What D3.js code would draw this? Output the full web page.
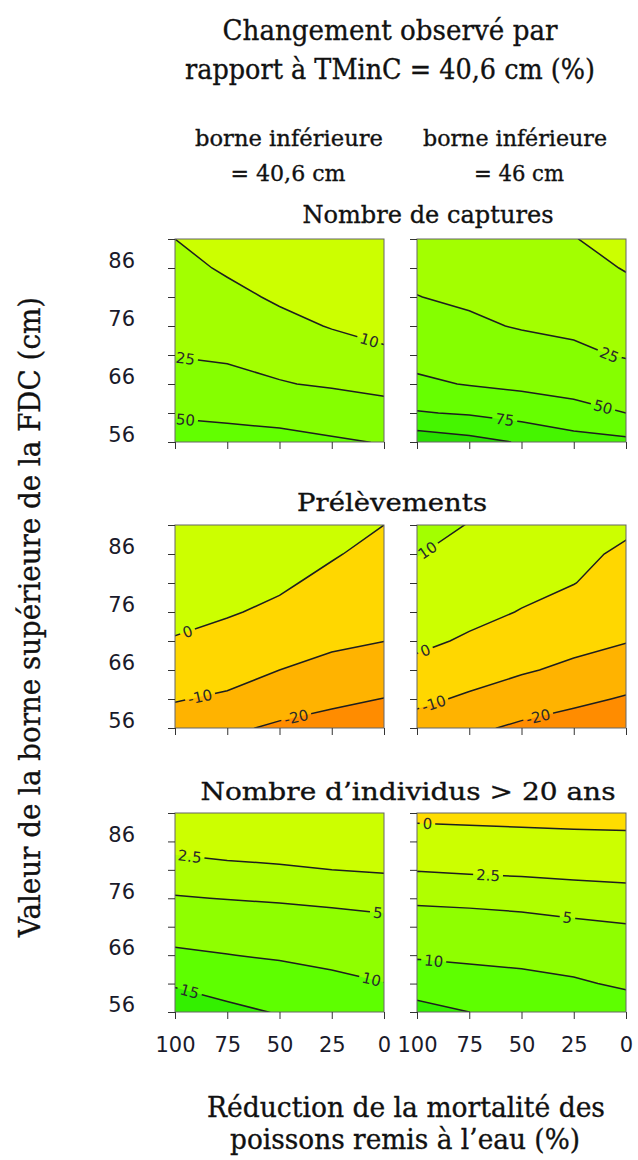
<!DOCTYPE html>
<html><head><meta charset="utf-8">
<script src="https://cdn.jsdelivr.net/npm/d3@7"></script>
<style>body{margin:0;background:#fff}</style>
</head><body>
<svg id="chart" width="638" height="1160"></svg>
<script>
// ---------- DATA ----------
const xGrid = [100, 75, 50, 25, 0];               // réduction de mortalité (%)
const yGrid = [91, 86, 81, 76, 71, 66, 61, 56];   // borne supérieure (cm), top -> bottom
const xTicks = [100, 75, 50, 25, 0];
const yTicks = [56, 61, 66, 71, 76, 81, 86, 91];
const yTickLabels = [56, 66, 76, 86];

// Nombre de captures, borne inférieure = 40,6 cm
const capturesLow = [
  [10.0,  6.0,  5.0,  3.0,  2.0],
  [13.6,  8.5,  6.5,  4.5,  3.5],
  [17.1, 13.2,  8.3,  6.0,  5.0],
  [20.7, 17.8, 13.5,  9.3,  7.0],
  [24.3, 22.4, 19.4, 15.8, 11.7],
  [35.0, 31.0, 26.0, 23.0, 20.0],
  [47.5, 45.0, 41.8, 36.9, 31.8],
  [60.0, 59.0, 57.6, 53.3, 48.6]
];
const capturesLowLevels = [10, 25, 50];
const capturesLowColors = ["#ccff00", "#a3ff00", "#85ff00", "#62ff00"];
const capturesLowLabels = [{level: 10, x: 7, text: "10"}, {level: 25, x: 95, text: "25"}, {level: 50, x: 95, text: "50"}];

// Nombre de captures, borne inférieure = 46 cm
const capturesHigh = [
  [18.0, 15.0, 12.0, 10.5,  5.0],
  [21.5, 18.7, 15.9, 14.4,  9.3],
  [25.3, 22.4, 19.8, 18.2, 14.1],
  [34.1, 27.9, 23.7, 22.1, 18.8],
  [42.8, 38.3, 32.9, 28.1, 23.6],
  [54.0, 48.8, 45.0, 41.0, 35.3],
  [76.8, 72.4, 65.1, 58.2, 50.0],
  [115.0, 108.0, 98.0, 85.3, 80.5]
];
const capturesHighLevels = [10, 25, 50, 75, 100];
const capturesHighColors = ["#ccff00", "#a3ff00", "#85ff00", "#66ff00", "#45f500", "#28e000"];
const capturesHighLabels = [{level: 25, x: 8, text: "25"}, {level: 50, x: 11, text: "50"}, {level: 75, x: 58, text: "75"}];

// Prélèvements, borne inférieure = 40,6 cm
const prelevLow = [
  [ 10.0,   7.0,   5.0,   3.0,   0.0],
  [  7.4,   4.9,   3.1,   0.7,  -2.5],
  [  4.9,   2.8,   1.2,  -2.1,  -4.9],
  [  2.3,   0.7,  -1.6,  -5.3,  -7.4],
  [ -0.5,  -2.7,  -5.8,  -8.4,  -9.9],
  [ -5.0,  -6.7, -10.0, -12.6, -15.0],
  [ -9.5, -11.3, -15.7, -18.1, -20.2],
  [-14.1, -18.4, -21.4, -23.6, -25.4]
];
const prelevLowLevels = [-20, -10, 0];
const prelevLowColors = ["#ff8c00", "#ffb300", "#ffd700", "#ccff00"];
const prelevLowLabels = [{level: 0, x: 94, text: "0"}, {level: -10, x: 88, text: "-10"}, {level: -20, x: 42, text: "-20"}];

// Prélèvements, borne inférieure = 46 cm
const prelevHigh = [
  [ 13.0,   9.7,   6.0,   3.5,   1.4],
  [ 10.3,   7.1,   3.9,   1.8,  -1.3],
  [  7.4,   4.6,   1.9,   0.2,  -3.6],
  [  4.6,   2.0,  -0.3,  -3.6,  -6.6],
  [  1.7,  -1.0,  -4.8,  -7.3,  -9.6],
  [ -2.3,  -6.0,  -9.0, -11.9, -15.0],
  [ -8.0, -11.4, -15.0, -18.0, -20.8],
  [-13.8, -18.1, -21.7, -24.2, -26.6]
];
const prelevHighLevels = [-20, -10, 0, 10];
const prelevHighColors = ["#ff8c00", "#ffb300", "#ffd700", "#ccff00", "#a3ff00"];
const prelevHighLabels = [{level: 10, x: 95, text: "10"}, {level: 0, x: 96, text: "0"}, {level: -10, x: 92, text: "-10"}, {level: -20, x: 42, text: "-20"}];

// Nombre d'individus > 20 ans, borne inférieure = 40,6 cm
const indivLow = [
  [ 1.2,  0.9,  0.7,  0.5,  0.3],
  [ 1.8,  1.5,  1.3,  1.1,  1.0],
  [ 3.3,  3.0,  2.8,  2.5,  2.3],
  [ 5.2,  4.9,  4.6,  4.3,  4.0],
  [ 7.9,  7.4,  7.0,  6.4,  5.9],
  [10.8, 10.1,  9.5,  8.7,  8.0],
  [14.5, 13.1, 12.1, 11.2, 10.1],
  [18.2, 16.1, 14.7, 14.0, 12.9]
];
const indivLowLevels = [2.5, 5, 10, 15];
const indivLowColors = ["#ccff00", "#b0ff00", "#8fff00", "#5eff00", "#33f000"];
const indivLowLabels = [{level: 2.5, x: 93, text: "2.5"}, {level: 5, x: 3, text: "5"}, {level: 10, x: 6, text: "10"}, {level: 15, x: 93, text: "15"}];

// Nombre d'individus > 20 ans, borne inférieure = 46 cm
const indivHigh = [
  [-0.5, -0.6, -0.7, -0.8, -0.8],
  [ 0.9,  0.8,  0.7,  0.6,  0.5],
  [ 2.4,  2.2,  2.1,  1.9,  1.8],
  [ 4.4,  4.1,  3.8,  3.6,  3.3],
  [ 6.8,  6.7,  6.3,  5.6,  5.2],
  [ 9.5,  9.1,  8.6,  8.0,  7.3],
  [12.9, 12.0, 11.5, 10.6,  9.3],
  [16.5, 15.0, 14.4, 13.5, 12.5]
];
const indivHighLevels = [0, 2.5, 5, 10, 15];
const indivHighColors = ["#ffdd00", "#ccff00", "#b0ff00", "#8fff00", "#5eff00", "#33f000"];
const indivHighLabels = [{level: 0, x: 95, text: "0"}, {level: 2.5, x: 66, text: "2.5"}, {level: 5, x: 28, text: "5"}, {level: 10, x: 92, text: "10"}];

const titleLines = ["Changement observé par", "rapport à TMinC = 40,6 cm (%)"];
const colTitles = [["borne inférieure", "= 40,6 cm"], ["borne inférieure", "= 46 cm"]];
const rowTitles = ["Nombre de captures", "Prélèvements", "Nombre d’individus > 20 ans"];
const xTitle = ["Réduction de la mortalité des", "poissons remis à l’eau (%)"];
const yTitle = "Valeur de la borne supérieure de la FDC (cm)";

// ---------- LAYOUT ----------
const svg = d3.select("#chart");
const defs = svg.append("defs");
const SERIF = "'DejaVu Serif', serif";
const SANS = "'DejaVu Sans', Verdana, sans-serif";
const W = 209;
const colX = [175, 417];
const rowY = [239, 525, 813];
const rowH = [203, 203, 199];

// size a text to a target width, allowing at most a small horizontal squeeze
function fit(t, size, width) {
  t.attr("font-size", size);
  const natural = t.node().getComputedTextLength();
  if (natural > width * 1.06) {
    t.attr("font-size", size * width * 1.06 / natural);
  }
  t.attr("textLength", width).attr("lengthAdjust", "spacingAndGlyphs");
  return t;
}
function addText(txt, x, y, size, width) {
  const t = svg.append("text").attr("x", x).attr("y", y)
    .attr("font-family", SERIF).attr("fill", "#111").attr("stroke", "#111").attr("stroke-width", 0.35)
    .attr("text-anchor", "middle").text(txt);
  return fit(t, size, width);
}

// titles
addText(titleLines[0], 390, 40, 29, 335);
addText(titleLines[1], 390, 79, 29, 410);
addText(colTitles[0][0], 289, 146, 23, 188);
addText(colTitles[0][1], 288, 181, 23, 115);
addText(colTitles[1][0], 515, 146, 23, 184);
addText(colTitles[1][1], 519, 181, 23, 90);
addText(rowTitles[0], 428, 223, 25, 251);
addText(rowTitles[1], 392, 511, 25, 190);
addText(rowTitles[2], 408, 800, 25, 415);
addText(xTitle[0], 406, 1117, 29, 398);
addText(xTitle[1], 405, 1149, 29, 350);
const yt = svg.append("text").attr("transform", "translate(40,617) rotate(-90)")
  .attr("font-family", SERIF).attr("fill", "#111").attr("stroke", "#111").attr("stroke-width", 0.35)
  .attr("text-anchor", "middle").text(yTitle);
fit(yt, 29, 640);

const panels = [
  {row: 0, col: 0, grid: capturesLow, levels: capturesLowLevels, colors: capturesLowColors, labels: capturesLowLabels},
  {row: 0, col: 1, grid: capturesHigh, levels: capturesHighLevels, colors: capturesHighColors, labels: capturesHighLabels},
  {row: 1, col: 0, grid: prelevLow, levels: prelevLowLevels, colors: prelevLowColors, labels: prelevLowLabels},
  {row: 1, col: 1, grid: prelevHigh, levels: prelevHighLevels, colors: prelevHighColors, labels: prelevHighLabels},
  {row: 2, col: 0, grid: indivLow, levels: indivLowLevels, colors: indivLowColors, labels: indivLowLabels},
  {row: 2, col: 1, grid: indivHigh, levels: indivHighLevels, colors: indivHighColors, labels: indivHighLabels}
];

panels.forEach((p, i) => {
  const x0 = colX[p.col], y0 = rowY[p.row], h = rowH[p.row];
  const xs = d3.scaleLinear().domain([100, 0]).range([x0, x0 + W]);
  const ys = d3.scaleLinear().domain([56, 91]).range([y0 + h, y0]);
  const nx = xGrid.length, ny = yGrid.length;
  const gx = d3.scaleLinear().domain([0.5, nx - 0.5]).range([xs(xGrid[0]), xs(xGrid[nx - 1])]);
  const gy = d3.scaleLinear().domain([0.5, ny - 0.5]).range([ys(yGrid[0]), ys(yGrid[ny - 1])]);
  const values = p.grid.flat();
  const contours = d3.contours().size([nx, ny]).thresholds(p.levels)(values);
  const path = d3.geoPath(d3.geoTransform({point(x, y) { this.stream.point(gx(x), gy(y)); }}));

  defs.append("clipPath").attr("id", "clip" + i)
    .append("rect").attr("x", x0).attr("y", y0).attr("width", W).attr("height", h);

  const g = svg.append("g").attr("clip-path", `url(#clip${i})`);
  g.append("rect").attr("x", x0).attr("y", y0).attr("width", W).attr("height", h).attr("fill", p.colors[0]);
  g.selectAll("path.band").data(contours).join("path").attr("class", "band")
    .attr("d", path).attr("fill", (d, k) => p.colors[k + 1]);

  // labels
  const mask = defs.append("mask").attr("id", "mask" + i).attr("maskUnits", "userSpaceOnUse")
    .attr("x", 0).attr("y", 0).attr("width", 638).attr("height", 1160);
  mask.append("rect").attr("x", 0).attr("y", 0).attr("width", 638).attr("height", 1160).attr("fill", "#fff");

  const labelG = svg.append("g");
  p.labels.forEach(lab => {
    const mp = contours[p.levels.indexOf(lab.level)];
    const X = xs(lab.x);
    let best = null;
    mp.coordinates.forEach(poly => poly.forEach(ring => {
      for (let k = 0; k < ring.length - 1; k++) {
        const a = [gx(ring[k][0]), gy(ring[k][1])], b = [gx(ring[k + 1][0]), gy(ring[k + 1][1])];
        if (a[0] === b[0]) continue;
        if ((a[0] - X) * (b[0] - X) <= 0) {
          const t = (X - a[0]) / (b[0] - a[0]);
          const Y = a[1] + t * (b[1] - a[1]);
          if (Y > y0 + 1 && Y < y0 + h - 1 && !best) {
            let ang = Math.atan2(b[1] - a[1], b[0] - a[0]) * 180 / Math.PI;
            if (ang > 90) ang -= 180;
            if (ang < -90) ang += 180;
            best = {x: X, y: Y, ang};
          }
        }
      }
    }));
    if (!best) return;
    const t = labelG.append("text")
      .attr("transform", `translate(${best.x},${best.y}) rotate(${best.ang})`)
      .attr("font-family", SANS).attr("font-size", 15).attr("fill", "#2a2a2a")
      .attr("text-anchor", "middle").attr("dy", "0.36em").text(lab.text);
    const tw = t.node().getComputedTextLength();
    mask.append("rect").attr("x", -tw / 2 - 3).attr("y", -6).attr("width", tw + 6).attr("height", 12)
      .attr("transform", `translate(${best.x},${best.y}) rotate(${best.ang})`).attr("fill", "#000");
  });

  g.append("g").attr("mask", `url(#mask${i})`)
    .selectAll("path.line").data(contours).join("path").attr("class", "line")
    .attr("d", path).attr("fill", "none").attr("stroke", "#1e1e1e").attr("stroke-width", 1.5);

  labelG.raise();

  // frame
  svg.append("rect").attr("x", x0).attr("y", y0).attr("width", W).attr("height", h)
    .attr("fill", "none").attr("stroke", "#666").attr("stroke-width", 1);

  // axes
  const axL = svg.append("g").attr("transform", `translate(${x0},0)`)
    .call(d3.axisLeft(ys).tickValues(yTicks).tickSize(7).tickSizeOuter(0).tickPadding(33)
      .tickFormat(d => (p.col === 0 && yTickLabels.includes(d)) ? d : ""));
  axL.select(".domain").remove();
  axL.selectAll(".tick line").attr("stroke", "#333");
  axL.selectAll("text").attr("y", -7).attr("font-family", SANS).attr("font-size", 21).attr("fill", "#1a1a2a");

  const axB = svg.append("g").attr("transform", `translate(0,${y0 + h})`)
    .call(d3.axisBottom(xs).tickValues(xTicks).tickSize(7).tickSizeOuter(0).tickPadding(18)
      .tickFormat(d => p.row === 2 ? d : ""));
  axB.select(".domain").remove();
  axB.selectAll(".tick line").attr("stroke", "#333");
  axB.selectAll("text").attr("font-family", SANS).attr("font-size", 21).attr("fill", "#1a1a2a");
});
</script>
</body></html>
